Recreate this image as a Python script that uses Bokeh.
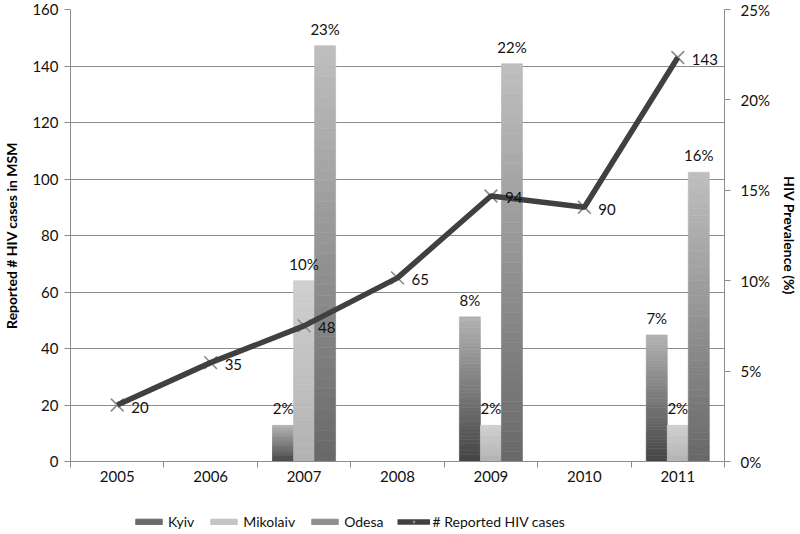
import numpy as np
from bokeh.plotting import figure
from bokeh.layouts import column
from bokeh.models import (Range1d, LinearAxis, FixedTicker, PrintfTickFormatter,
                          ColumnDataSource, Legend, LegendItem)
from bokeh.embed import file_html
from bokeh.resources import INLINE
from bokeh.core.properties import value

# ---- data ----
years = ["2005", "2006", "2007", "2008", "2009", "2010", "2011"]
hiv_cases = [20, 35, 48, 65, 94, 90, 143]
bar_years = ["2007", "2009", "2011"]
kyiv = [2, 8, 7]
mikolaiv = [10, 2, 2]
odesa = [23, 22, 16]
series_names = ["Kyiv", "Mikolaiv", "Odesa"]
left_ticks = [0, 20, 40, 60, 80, 100, 120, 140, 160]
right_ticks = [0, 5, 10, 15, 20, 25]

FONT = "Lato"
GRID = "#8c8c8c"
NAN = float("nan")

p = figure(width=800, height=506, output_backend="svg", toolbar_location=None,
           x_range=Range1d(0, len(years)), y_range=Range1d(0, 160),
           min_border_left=68, min_border_right=76, min_border_top=9, min_border_bottom=45)
p.extra_y_ranges = {"pct": Range1d(0, 25)}
p.outline_line_color = None
p.background_fill_color = "white"
p.border_fill_color = "white"

# axes
xc = [i + 0.5 for i in range(len(years))]
p.xaxis.ticker = FixedTicker(ticks=xc, minor_ticks=list(range(len(years) + 1)))
p.xaxis.major_label_overrides = {c: y for c, y in zip(xc, years)}
p.xaxis.major_tick_line_color = None
p.xaxis.minor_tick_out = 6
p.xaxis.minor_tick_in = 0
p.xaxis.minor_tick_line_color = GRID
p.xaxis.axis_line_color = GRID
p.xaxis.major_label_standoff = 3

p.yaxis.ticker = FixedTicker(ticks=left_ticks)
p.yaxis.axis_label = "Reported # HIV cases in MSM"
p.yaxis.major_tick_out = 6
p.yaxis.major_tick_in = 0
p.yaxis.minor_tick_line_color = None
p.yaxis.major_tick_line_color = GRID
p.yaxis.axis_line_color = GRID
p.yaxis.major_label_standoff = 6
p.yaxis.axis_label_standoff = 9

raxis = LinearAxis(y_range_name="pct", ticker=FixedTicker(ticks=right_ticks),
                   formatter=PrintfTickFormatter(format="%d%%"),
                   axis_label="HIV Prevalence (%)")
raxis.major_tick_out = 6
raxis.major_tick_in = 0
raxis.minor_tick_line_color = None
raxis.major_tick_line_color = GRID
raxis.axis_line_color = GRID
raxis.major_label_standoff = 10
raxis.axis_label_standoff = 8
p.add_layout(raxis, "right")

for ax in [p.xaxis[0], p.yaxis[0], raxis]:
    ax.major_label_text_font = FONT
    ax.major_label_text_font_size = "15px"
    ax.major_label_text_color = "#111111"
    ax.axis_label_text_font = FONT
    ax.axis_label_text_font_size = "14px"
    ax.axis_label_text_font_style = "bold"
    ax.axis_label_text_color = "#000000"

p.xgrid.grid_line_color = None
p.ygrid.ticker = FixedTicker(ticks=left_ticks)
p.ygrid.grid_line_color = GRID
p.ygrid.grid_line_width = 1

# ---- gradient bars (stacked slices) ----
grad = {
    "Kyiv": ("#444444", "#b2b2b2"),
    "Mikolaiv": ("#b2b2b2", "#cfcfcf"),
    "Odesa": ("#686868", "#bfbfbf"),
}
offsets = {"Kyiv": -0.225, "Mikolaiv": 0.0, "Odesa": 0.225}
bar_w = 0.225
series_vals = {"Kyiv": kyiv, "Mikolaiv": mikolaiv, "Odesa": odesa}


def hex2rgb(h):
    h = h.lstrip("#")
    return np.array([int(h[i:i + 2], 16) for i in (0, 2, 4)], dtype=float)


N = 40
seg = dict(x=[], bottom=[], top=[], color=[])
lab = dict(x=[], y=[], text=[])
for name in series_names:
    c0, c1 = hex2rgb(grad[name][0]), hex2rgb(grad[name][1])
    for yr, v in zip(bar_years, series_vals[name]):
        cx = years.index(yr) + 0.5 + offsets[name]
        for k in range(N):
            t = (k + 0.5) / N
            c = c0 + (c1 - c0) * t
            seg["x"].append(cx)
            seg["bottom"].append(v * k / N)
            seg["top"].append(v * (k + 1) / N)
            seg["color"].append("#%02x%02x%02x" % tuple(int(round(u)) for u in c))
        lab["x"].append(cx)
        lab["y"].append(v)
        lab["text"].append(f"{v}%")

p.vbar(x="x", bottom="bottom", top="top", width=bar_w, fill_color="color",
       line_color="color", line_width=0.6, source=ColumnDataSource(seg), y_range_name="pct")

p.text(x="x", y="y", text="text", source=ColumnDataSource(lab), y_range_name="pct",
       text_align="center", text_baseline="bottom", y_offset=-8,
       text_font=value(FONT), text_font_size="15px", text_color="#111111")

# ---- line ----
line_src = ColumnDataSource(dict(x=xc, y=hiv_cases, text=[str(v) for v in hiv_cases]))
p.scatter("x", "y", source=line_src, marker="x", size=18, line_color="#8a8a8a",
          line_width=1.6)
p.line("x", "y", source=line_src, line_color="#404040", line_width=5.5)
p.text(x="x", y="y", text="text", source=line_src, x_offset=14, y_offset=2,
       text_baseline="middle", text_align="left",
       text_font=value(FONT), text_font_size="15px", text_color="#111111")

# ---- legend strip (separate small figure so the legend is not clipped) ----
lf = figure(width=800, height=28, output_backend="svg", toolbar_location=None,
            x_range=Range1d(0, 1), y_range=Range1d(0, 1),
            x_axis_type=None, y_axis_type=None,
            min_border_left=0, min_border_right=0, min_border_top=0, min_border_bottom=0)
lf.grid.grid_line_color = None
lf.outline_line_color = None
lf.border_fill_color = "white"
lf.background_fill_color = "white"

legend_cols = {"Kyiv": "#6a6a6a", "Mikolaiv": "#c4c4c4", "Odesa": "#8e8e8e"}
items = []
for name in series_names:
    r = lf.vbar(x=[NAN], top=[NAN], bottom=[NAN], width=0.2, fill_color=legend_cols[name],
                line_color=legend_cols[name])
    items.append(LegendItem(label=name, renderers=[r]))
lsc = lf.scatter(x=[NAN], y=[NAN], marker="x", size=16, line_color="#8a8a8a", line_width=1.6)
lln = lf.line(x=[NAN, NAN], y=[NAN, NAN], line_color="#404040", line_width=5.5)
items.append(LegendItem(label="# Reported HIV cases", renderers=[lln, lsc]))
legend = Legend(items=items, orientation="horizontal", location=(62, 4))
legend.label_text_font = FONT
legend.label_text_font_size = "14px"
legend.label_text_color = "#111111"
legend.glyph_width = 33
legend.glyph_height = 7
legend.spacing = 13
legend.label_standoff = 3
legend.padding = 0
legend.margin = 0
legend.border_line_color = None
legend.background_fill_alpha = 0
lf.add_layout(legend, "center")

layout = column(p, lf, spacing=0)
open("out.html", "w").write(file_html(layout, INLINE))
